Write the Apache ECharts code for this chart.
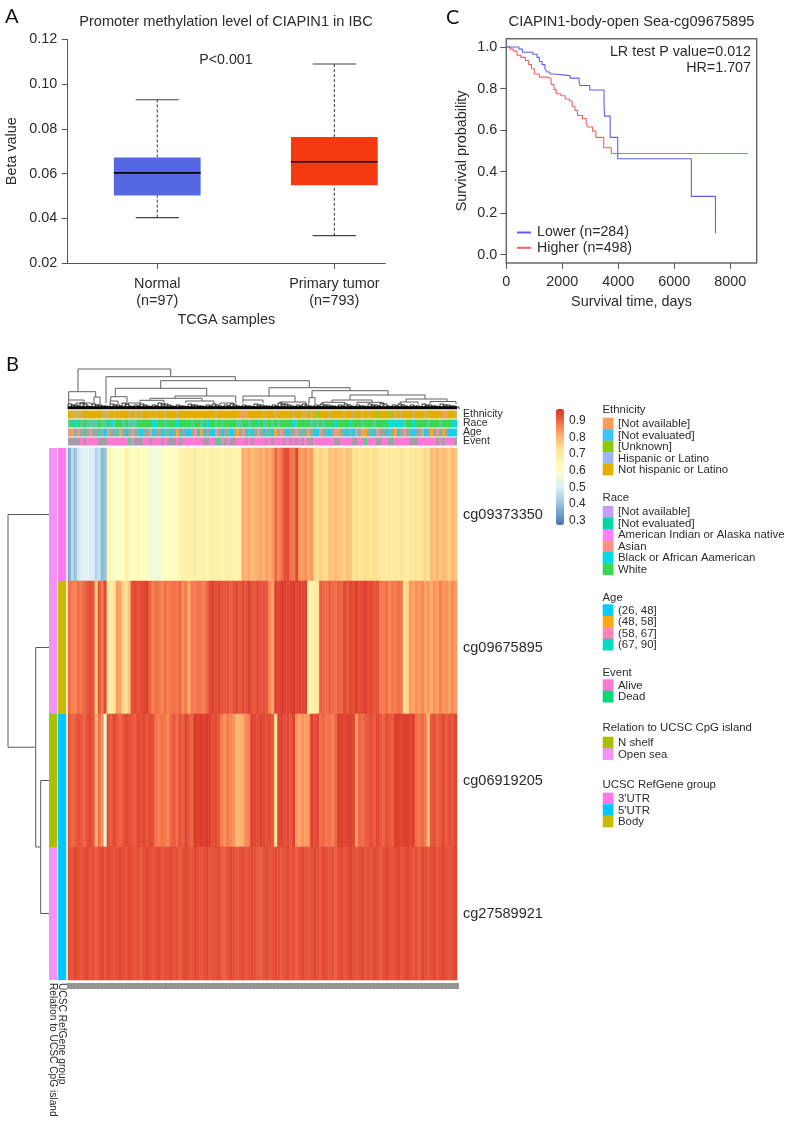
<!DOCTYPE html>
<html>
<head>
<meta charset="utf-8">
<style>html,body{margin:0;padding:0;background:#fff}#c{width:785px;height:1122px}</style>
<script src="https://cdn.jsdelivr.net/npm/echarts@6/dist/echarts.min.js"></script>
</head>
<body>
<div id="c"></div>
<script>
// ---------- Panel A: box plot ----------
const boxLabels = ['Normal\n(n=97)', 'Primary tumor\n(n=793)'];
const boxColors = ['#5468e3', '#f43a10'];
// low whisker, q1, median, q3, high whisker
const boxNormal = [0.0403, 0.0502, 0.0603, 0.0672, 0.0930];
const boxTumor = [0.0322, 0.0548, 0.0653, 0.0763, 0.1090];

// ---------- Panel C: survival ----------
const kmLower = [[0,1],[300,1],[450,.99],[580,.975],[950,.965],[1100,.95],[1180,.93],[1280,.915],[1380,.895],[1450,.88],[1560,.87],[1700,.862],[2280,.85],[2600,.83],[2640,.815],[2980,.793],[3490,.73],[3510,.667],[3710,.565],[3980,.462],[6610,.281],[7470,.103]];
const kmHigher = [[0,1],[130,.99],[250,.98],[380,.96],[520,.95],[680,.935],[800,.915],[900,.895],[1000,.87],[1180,.855],[1450,.848],[1600,.82],[1700,.795],[1780,.775],[1950,.765],[2100,.75],[2250,.74],[2350,.715],[2450,.695],[2540,.67],[2720,.655],[2850,.635],[2900,.615],[3080,.595],[3200,.565],[3480,.515],[3750,.487],[8620,.487]];

// ---------- Panel B: heatmap ----------
const probes = ['cg09373350', 'cg09675895', 'cg06919205', 'cg27589921'];
const cg09373350 = [.36,.45,.40,.48,.50,.51,.52,.50,.50,.44, .47,.38,.40,.66,.64,.60,.60,.62,.62,.68,
 .64,.62,.63,.64,.62,.61,.63,.57,.56,.58, .57,.60,.62,.63,.61,.62,.63,.67,.68,.66,
 .68,.67,.70,.67,.67,.68,.66,.68,.69,.67, .68,.66,.67,.69,.68,.67,.66,.68,.81,.80,
 .82,.79,.80,.81,.82,.80,.83,.81,.84,.90, .86,.89,.93,.94,.89,.88,.94,.84,.83,.85,
 .82,.84,.75,.74,.76,.75,.74,.78,.77,.79, .78,.77,.76,.78,.77,.73,.74,.72,.73,.74,
 .73,.72,.74,.73,.70,.71,.70,.71,.69,.71, .70,.72,.70,.69,.71,.70,.72,.71,.73,.75,
 .72,.79,.78,.80,.77,.79,.78,.76,.79,.78];
const cg09675895 = [.89,.87,.86,.89,.88,.90,.92,.93,.92,.76,.92,.88,.94,
 .70,.69,.72,.83,.82,.75,.72,
 .78,.93,.94,.92,.93,.94,.95,.90,
 .87,.89,.88,.86,.89,.87,.88, .89,.88,.90,.85,.88, .81,
 .88,.87,.89,.88,.87,.90, .94,.95,.93,.94,.93, .92,.93,.91,.93,.94,.92,
 .94,.92,.95,.93,.92,.94,.92,.93,.92, .86,.82,
 .95,.94,.96,.95,.94,.95,.96,.94,.95,.94,.95, .68,.67,.69,.72,
 .91,.90,.89,.91,.90,.89,.91,.90, .94,.92,.94,.93, .95,.93,.94,.95,.93,.94,.92,.93,
 .88,.87,.89,.86,.88,.87,.89,.88, .73,.75,
 .84,.82,.85,.83,.86,.82,.84,.81,.85,.83,.87,.84,.85,.82,.86,.84];
const cg06919205 = [.92,.90,.91,.93,.92,.90,.93,.94,.92,.80,.89,.85,.56,
 .93,.91,.94,.92,.90,.92,.94,.93,.92,.91, .94,.93,.94,.92,.94,.93, .88,.87,.89,.88,.86,
 .90,.92,.89,.93,.91,.94,.92,.90, .96,.95,.96,.95,.96,.95, .93,.94,.92, .87,.85,.88,.86,.85,
 .79,.80,.81, .86,.87, .95,.94,.93,.95,.94,.93,.94, .92,.72, .94,.95,.93,.94,.92,.95,
 .84,.82,.85,.83,.84, .95,.93,.94, .89,.90,.88,.89,.87,.90, .95,.95,.94,.95,.95,.94,
 .83,.90,.89,.91, .92,.93,.91,.94,.92,.90,.93,.92,.91, .95,.95,.94,.95,.95,.94,.95,
 .89,.88,.90,.87,.78, .92,.93,.90,.92,.94,.91,.93,.92,.94];
const cg27589921 = [.93,.92,.94,.93,.92,.93,.94,.92,.93,.91, .93,.94,.92,.94,.93,.92,.93,.94,.93,.92,
 .94,.93,.92,.93,.91,.93,.94,.93,.92,.93, .94,.92,.93,.93,.94,.92,.93,.91,.93,.94,
 .93,.92,.94,.93,.92,.93,.94,.92,.93,.93, .94,.92,.91,.93,.94,.93,.92,.93,.94,.92,
 .93,.94,.93,.92,.91,.93,.94,.92,.93,.94, .93,.92,.93,.94,.92,.93,.91,.93,.94,.93,
 .92,.93,.94,.93,.92,.94,.93,.92,.93,.91, .93,.94,.92,.93,.94,.93,.92,.93,.94,.92,
 .93,.92,.94,.93,.91,.93,.94,.93,.92,.93, .94,.92,.93,.94,.93,.92,.93,.91,.94,.93,
 .92,.93,.94,.92,.93,.94,.93,.92,.93,.94];
const heatRows = [cg09373350, cg09675895, cg06919205, cg27589921];
const scaleColors = ['#4575B4','#91BFDB','#E0F3F8','#FFFFBF','#FEE090','#FC8D59','#D73027'];
const scaleMin = 0.275, scaleMax = 0.97;
const scaleTicks = [0.3,0.4,0.5,0.6,0.7,0.8,0.9];

// Column annotation tracks: [column, code] exceptions from the main code 0
const trackNames = ['Ethnicity','Race','Age','Event'];
const ethnicityPalette = ['#e3ae00','#d3b24a','#eba550','#a8c21e'];
const racePalette = ['#38d850','#4fcf9a','#10dcd0'];
const agePalette = ['#9aa8a0','#20cce8','#f0a838','#e89a8a','#50c8b8'];
const eventPalette = ['#ff79d2','#a99aa8','#5cc88a'];
const ethnicityStripes = [[1,1],[2,1],[3,1],[4,1],[11,1],[12,1],[13,1],[15,1],[20,1],[22,1],[24,1],[27,1],[29,1],[32,1],[36,1],[49,1],[57,2],[58,2],[59,2],[65,1],[69,1],[75,1],[78,1],[79,1],[81,1],[83,3],[87,1],[92,1],[95,1],[98,1],[100,1],[103,3],[107,3],[109,1],[111,1],[115,1],[119,1],[125,2],[126,2],[129,1]];
const raceStripes = [[0,1],[2,2],[4,1],[6,1],[7,1],[8,1],[9,1],[11,1],[12,1],[14,2],[15,1],[18,1],[20,1],[21,1],[22,1],[28,2],[29,2],[32,1],[36,2],[41,1],[44,1],[46,2],[49,1],[51,1],[56,1],[57,1],[60,1],[63,2],[65,1],[66,1],[68,1],[70,1],[75,2],[76,1],[81,1],[83,1],[85,1],[89,2],[94,2],[98,1],[102,1],[107,2],[108,2],[109,2],[110,2],[111,2],[112,1],[115,2],[120,1],[124,1],[128,2],[129,2]];
const ageCodes = [3,2,0,3,0,4,0,3,0,0, 4,0,1,3,0,0,4,2,0,1, 0,3,0,4,1,0,0,3,1,0, 0,1,4,0,1,0,2,1,0,1, 1,0,3,1,2,1,0,1,1,3, 0,1,0,4,1,0,2,0,3,1, 4,1,0,3,0,1,0,4,1,2, 0,3,0,1,0,0,3,0,4,0, 2,0,1,1,3,0,4,1,0,3, 2,0,4,1,0,1,3,0,2,2, 0,4,1,3,0,0,1,4,0,2, 1,0,3,0,4,1,0,0,3,1, 0,2,0,3,4,2,0,1,1,1];
const eventStripes = [[0,1],[1,1],[2,1],[3,1],[5,1],[10,1],[11,1],[12,1],[20,2],[22,1],[23,1],[24,1],[27,1],[31,1],[33,1],[34,1],[35,1],[37,2],[45,1],[46,1],[49,2],[50,2],[52,1],[54,1],[55,1],[59,1],[61,1],[66,1],[68,1],[72,1],[74,1],[76,1],[78,1],[80,1],[81,1],[89,1],[90,1],[95,1],[96,1],[99,2],[103,1],[104,1],[107,1],[108,2],[114,1],[115,1],[116,1],[123,1],[125,1],[129,1]];

// Row annotations
const rowTrackNames = ['Relation to UCSC CpG island','UCSC RefGene group'];
const relationColors = ['#f092f8','#f092f8','#a9bf00','#f092f8'];
const refGeneColors = ['#ff79e8','#c9bb00','#00c8ff','#00c8ff'];

// Dendrograms: [left, right, top, left foot, right foot]
const topLinks = [[10,102.7,40,17.3,32.3],[0.7,27.7,17.3,9,12],[0.7,16,9,5,5],[26,32,12,5,4],[38,167.3,32.3,5.7,28.3],[92.7,241.3,28.3,20.7,21.3],[47.3,138.7,20.7,12.3,13],[42.7,59,12.3,8,6],[42,50,8,5,5],[107,167.7,13,10.7,5.5],[82,134,10.7,8.7,8],[72,96,8.7,5.5,6],[117.7,146,8,6,5],[201,282,21.3,13,18.3],[175,227,13,9,7],[175,195,9,6,6],[212,238,7,5,5],[244,320,18.3,11.3,14],[241,247,11.3,5,5],[282,357,14,9,10],[264,304,9,6.7,6.7],[254,277,6.7,4.5,4.5],[289,314,6.7,4.5,4.5],[338,379,10,7,7.5],[332,350,7,4.5,4.5],[362,388,7.5,5,5],[60,72,6,4,4],[152,166,6,4,4],[8,24,6,4,4]];
const leafTops = [5,4,6,3,5,4,3,5,4,6,3,4,5,3,4,6,5,3,4,3,5,4,3,4,5,3,4,5,3,4,3,5,4,3,4,6,5,3,4,5,3,4,5,4,3,4,5,3,4,3,5,4,6,3,4,5,3,4,3,5,4,3,5,4,3];
const sideLinks = [[8,0.5,2.25,49,35.7],[35.7,1.5,3,49,40.7],[40.7,2.5,3.5,49,49]];

// Legends
const legendGroups = [
 {title:'Ethnicity', labels:['[Not available]','[Not evaluated]','[Unknown]','Hispanic or Latino','Not hispanic or Latino'], colors:['#ff9a58','#3cc4ff','#8acb00','#9ab4ff','#e3b000']},
 {title:'Race', labels:['[Not available]','[Not evaluated]','American Indian or Alaska native','Asian','Black or African Aamerican','White'], colors:['#c79dff','#00d6a0','#ff7fff','#ff8e88','#00dce0','#37d84f']},
 {title:'Age', labels:['(26, 48]','(48, 58]','(58, 67]','(67, 90]'], colors:['#00ccff','#ffa811','#ff84b6','#00dcc0']},
 {title:'Event', labels:['Alive','Dead'], colors:['#ff79d2','#00d97a']},
 {title:'Relation to UCSC CpG island', labels:['N shelf','Open sea'], colors:['#a9bf00','#f092f8']},
 {title:'UCSC RefGene group', labels:["3'UTR","5'UTR",'Body'], colors:['#ff79e8','#00c8ff','#c9bb00']}
];
const legendTops = [409, 497.3, 597.3, 672, 727.7, 784.3];
const legendSwatchTops = [417.7, 506, 604.3, 679.3, 736.7, 792.7];
const legendStep = 11.5;

// ---------- build ----------
const font = '"Liberation Sans", Arial, sans-serif';
const ink = '#2b2b2b';
const nCols = cg09373350.length;

const heatData = [];
heatRows.forEach((row, r) => row.forEach((v, c) => heatData.push([c, r, v])));

function expand(stripes){ const a = new Array(nCols).fill(0); stripes.forEach(s => { a[s[0]] = s[1]; }); return a; }
const tracks = [
  {codes: expand(ethnicityStripes), palette: ethnicityPalette},
  {codes: expand(raceStripes), palette: racePalette},
  {codes: ageCodes, palette: agePalette},
  {codes: expand(eventStripes), palette: eventPalette}
];
const trackData = [];
tracks.forEach((t, r) => t.codes.forEach((code, c) => trackData.push([c, r, code])));

const rowTrackData = [];
relationColors.forEach((col, r) => rowTrackData.push([0, r, col]));
refGeneColors.forEach((col, r) => rowTrackData.push([1, r, col]));

const leafLinks = [];
leafTops.forEach((h, i) => {
  leafLinks.push([i * 6, i * 6 + 4, h, 0, 0]);
  leafLinks.push([i * 6 + 3, i * 6 + 7, h - 1, 0, 0]);
});

function renderU(params, api, stroke, width){
  const xL = api.value(0), xR = api.value(1), top = api.value(2), fL = api.value(3), fR = api.value(4);
  return {type:'polyline', silent:true,
    shape:{points:[api.coord([xL,fL]),api.coord([xL,top]),api.coord([xR,top]),api.coord([xR,fR])]},
    style:{stroke:stroke, fill:null, lineWidth:width}};
}

function renderBox(params, api){
  const x = api.value(0), lo = api.value(1), q1 = api.value(2), med = api.value(3), q3 = api.value(4), hi = api.value(5);
  const halfBox = 0.245, halfCap = 0.122;
  const P = (a, b) => api.coord([a, b]);
  const seg = (a, b, style) => ({type:'line', shape:{x1:a[0],y1:a[1],x2:b[0],y2:b[1]}, style});
  const whisk = {stroke:'#333', lineWidth:1, lineDash:[3,2]};
  const cap = {stroke:'#444', lineWidth:1.2};
  const tl = P(x-halfBox,q3), br = P(x+halfBox,q1);
  return {type:'group', silent:true, children:[
    seg(P(x,lo),P(x,q1),whisk), seg(P(x,q3),P(x,hi),whisk),
    seg(P(x-halfCap,lo),P(x+halfCap,lo),cap), seg(P(x-halfCap,hi),P(x+halfCap,hi),cap),
    {type:'rect', shape:{x:tl[0],y:tl[1],width:br[0]-tl[0],height:br[1]-tl[1]}, style:{fill:boxColors[params.dataIndex]}},
    seg(P(x-halfBox,med),P(x+halfBox,med),{stroke:'#000',lineWidth:1.6})
  ]};
}

const legendGraphics = [];
legendGroups.forEach((g, i) => {
  legendGraphics.push({type:'text', left:602.5, top:legendTops[i]-5, silent:true, style:{text:g.title, font:'11.4px '+font, fill:ink}});
  g.labels.forEach((lab, k) => {
    const y = legendSwatchTops[i] + k * legendStep;
    legendGraphics.push({type:'rect', left:602.7, top:y, silent:true, shape:{width:10.7,height:legendStep+0.2}, style:{fill:g.colors[k]}});
    legendGraphics.push({type:'text', left:618, top:y+legendStep/2-5, silent:true, style:{text:lab, font:'11.4px '+font, fill:ink}});
  });
});

function t(text, left, top, size, extra){
  return Object.assign({text, left, top, textAlign:'left', textVerticalAlign:'middle', padding:0,
    textStyle:{fontFamily:font, fontSize:size, fontWeight:'normal', color:ink}}, extra||{});
}
function letter(text, left, top){ 
  const o = t(text, left, top, 20); o.textStyle.fontFamily = 'Lato, sans-serif'; o.textStyle.color = '#111'; return o;
}

const axisFont = {fontFamily:font, fontSize:14.4, color:ink};
const option = {
  backgroundColor:'#fff',
  animation:false,
  title:[
    letter('A',5,17), letter('B',6,365), letter('C',446,18),
    t('Promoter methylation level of CIAPIN1 in IBC',226,21.5,14.6,{textAlign:'center'}),
    t('P<0.001',226,60.5,14.2,{textAlign:'center'}),
    t('CIAPIN1-body-open Sea-cg09675895',631.5,21.5,14.6,{textAlign:'center'}),
    t('LR test P value=0.012',751,52,14.3,{textAlign:'right'}),
    t('HR=1.707',751,68.5,14.3,{textAlign:'right'})
  ],
  legend:{
    left:516, top:225.5, orient:'vertical', itemWidth:14, itemHeight:14, itemGap:1.3, padding:0,
    itemStyle:{opacity:0},
    data:['Lower (n=284)','Higher (n=498)'], textStyle:{fontFamily:font, fontSize:14.2, color:ink, padding:[0,0,0,1]}, selectedMode:false
  },
  visualMap:{
    type:'continuous', seriesIndex:3, min:scaleMin, max:scaleMax, inRange:{color:scaleColors},
    left:556, top:409, itemWidth:8, itemHeight:116, padding:0, calculable:false, hoverLink:false, text:null, show:true, realtime:false
  },
  grid:[
    {left:67.3, top:39.4, width:318, height:223.6},
    {left:506.3, top:38.7, width:250.4, height:224.3, show:true, borderColor:'#6a6a6a', borderWidth:1.5, backgroundColor:'transparent'},
    {left:68, top:448, width:389, height:532},
    {left:68, top:410, width:389, height:36},
    {left:48, top:448, width:19, height:532},
    {left:68, top:365, width:389, height:44},
    {left:0, top:448, width:49, height:532},
    {left:556, top:409, width:8, height:116}
  ],
  xAxis:[
    {gridIndex:0, type:'value', min:-0.508, max:1.288, splitLine:{show:false},
     name:'TCGA samples', nameLocation:'middle', nameGap:50, nameTextStyle:axisFont,
     axisLine:{onZero:false, lineStyle:{color:'#555',width:1}},
     axisTick:{customValues:[0,1], length:6, lineStyle:{color:'#555'}},
     axisLabel:Object.assign({customValues:[0,1], formatter:v => boxLabels[v], margin:13, lineHeight:16.5}, axisFont)},
    {gridIndex:1, type:'value', min:0, max:8943, splitLine:{show:false},
     name:'Survival time, days', nameLocation:'middle', nameGap:32, nameTextStyle:axisFont,
     axisLine:{show:false, onZero:false},
     axisTick:{customValues:[0,2000,4000,6000,8000], length:6, lineStyle:{color:'#555'}},
     axisLabel:Object.assign({customValues:[0,2000,4000,6000,8000], formatter:v => String(v), margin:12}, axisFont)},
    {gridIndex:2, type:'category', data:heatRows[0].map((_, i) => i), offset:3,
     axisLine:{show:false}, axisLabel:{show:false}, splitLine:{show:false},
     axisTick:{show:true, interval:0, length:6, lineStyle:{color:'#8e8e8e', width:2.8}}},
    {gridIndex:3, type:'value', min:0, max:nCols, show:false},
    {gridIndex:4, type:'category', data:rowTrackNames, axisLine:{show:false}, axisTick:{show:false},
     axisLabel:{interval:0, rotate:-90, margin:3, fontFamily:font, fontSize:10.2, color:ink}},
    {gridIndex:5, type:'value', min:0, max:389, show:false},
    {gridIndex:6, type:'value', min:0, max:49, show:false},
    {gridIndex:7, type:'value', min:0, max:1, show:false}
  ],
  yAxis:[
    {gridIndex:0, type:'value', min:0.02, max:0.12, interval:0.02, splitLine:{show:false},
     name:'Beta value', nameLocation:'middle', nameGap:48, nameTextStyle:axisFont,
     axisLine:{show:true, onZero:false, lineStyle:{color:'#555',width:1}},
     axisTick:{show:true, length:5.5, lineStyle:{color:'#555'}},
     axisLabel:Object.assign({formatter:v => v.toFixed(2), margin:10, padding:[2,0,0,0]}, axisFont)},
    {gridIndex:1, type:'value', min:-0.04, max:1.04, splitLine:{show:false},
     name:'Survival probability', nameLocation:'middle', nameGap:37, nameTextStyle:axisFont,
     axisLine:{show:false, onZero:false},
     axisTick:{show:true, customValues:[0,.2,.4,.6,.8,1], length:6, lineStyle:{color:'#555'}},
     axisLabel:Object.assign({customValues:[0,.2,.4,.6,.8,1], formatter:v => v.toFixed(1), margin:9, padding:[2,0,0,0]}, axisFont)},
    {gridIndex:2, type:'category', data:probes, inverse:true, position:'right',
     axisLine:{show:false}, axisTick:{show:false}, splitLine:{show:false},
     axisLabel:Object.assign({margin:6, padding:[3,0,0,0]}, axisFont, {fontSize:14.5})},
    {gridIndex:3, type:'category', data:trackNames, inverse:true, position:'right',
     axisLine:{show:false}, axisTick:{show:false},
     axisLabel:{interval:0, margin:6, padding:[3,0,0,0], fontFamily:font, fontSize:10.5, color:ink}},
    {gridIndex:4, type:'category', data:probes, inverse:true, show:false},
    {gridIndex:5, type:'value', min:0, max:44, show:false},
    {gridIndex:6, type:'value', min:0, max:4, inverse:true, show:false},
    {gridIndex:7, type:'value', min:scaleMin, max:scaleMax, position:'right', splitLine:{show:false},
     axisLine:{show:false},
     axisTick:{show:false, customValues:scaleTicks},
     axisLabel:{customValues:scaleTicks, formatter:v => v.toFixed(1), margin:5, fontFamily:font, fontSize:12, color:ink}}
  ],
  series:[
    {type:'custom', name:'Beta value', xAxisIndex:0, yAxisIndex:0, renderItem:renderBox, clip:false,
     data:[[0].concat(boxNormal),[1].concat(boxTumor)]},
    {type:'line', name:'Higher (n=498)', xAxisIndex:1, yAxisIndex:1, step:'end', symbol:'none', data:kmHigher,
     lineStyle:{color:'#f26060',width:1.1}, itemStyle:{color:'#f26060'}},
    {type:'line', name:'Lower (n=284)', xAxisIndex:1, yAxisIndex:1, step:'end', symbol:'none', data:kmLower,
     lineStyle:{color:'#5d5df2',width:1.1}, itemStyle:{color:'#5d5df2'}},
    {type:'heatmap', name:'Methylation', xAxisIndex:2, yAxisIndex:2, data:heatData, silent:true, itemStyle:{borderWidth:0}},
    {type:'custom', name:'Column tracks', xAxisIndex:3, yAxisIndex:3, data:trackData, silent:true,
     renderItem:(params, api) => {
       const c = api.value(0), r = api.value(1), code = api.value(2);
       const a = api.coord([c, r]), b = api.coord([c + 1, r]);
       const x0 = Math.round(a[0]), x1 = Math.round(b[0]);
       return {type:'rect', shape:{x:x0, y:a[1]-4, width:x1-x0, height:8}, style:{fill:tracks[r].palette[code]}};
     }},
    {type:'custom', name:'Row tracks', xAxisIndex:4, yAxisIndex:4, data:rowTrackData, silent:true,
     renderItem:(params, api) => {
       const col = api.value(0);
       const p = api.coord([col, api.value(1)]), s = api.size([1, 1]);
       return {type:'rect', shape:{x:p[0]-4+(col ? -0.2 : 0.3), y:p[1]-s[1]/2, width:8.2, height:s[1]}, style:{fill:rowTrackData[params.dataIndex][2]}};
     }},
    {type:'custom', name:'Column tree', xAxisIndex:5, yAxisIndex:5, data:topLinks, clip:false, silent:true,
     renderItem:(params, api) => renderU(params, api, '#606060', 1)},
    {type:'custom', name:'Column leaves', xAxisIndex:5, yAxisIndex:5, data:leafLinks, clip:false, silent:true,
     renderItem:(params, api) => renderU(params, api, '#222', 0.9)},
    {type:'line', name:'Leaf base', xAxisIndex:5, yAxisIndex:5, symbol:'none', silent:true, data:[[0,1.2],[389,1.2]],
     lineStyle:{color:'#000',width:3}},
    {type:'custom', name:'Row tree', xAxisIndex:6, yAxisIndex:6, data:sideLinks, clip:false, silent:true,
     renderItem:(params, api) => {
       const h = api.value(0), y1 = api.value(1), y2 = api.value(2), f1 = api.value(3), f2 = api.value(4);
       return {type:'polyline', shape:{points:[api.coord([f1,y1]),api.coord([h,y1]),api.coord([h,y2]),api.coord([f2,y2])]},
         style:{stroke:'#5a5a5a', fill:null, lineWidth:1}};
     }}
  ],
  graphic:{elements:legendGraphics}
};
const chart = echarts.init(document.getElementById('c'), null, {renderer:'canvas', width:785, height:1122});
chart.setOption(option);
</script>
</body>
</html>
